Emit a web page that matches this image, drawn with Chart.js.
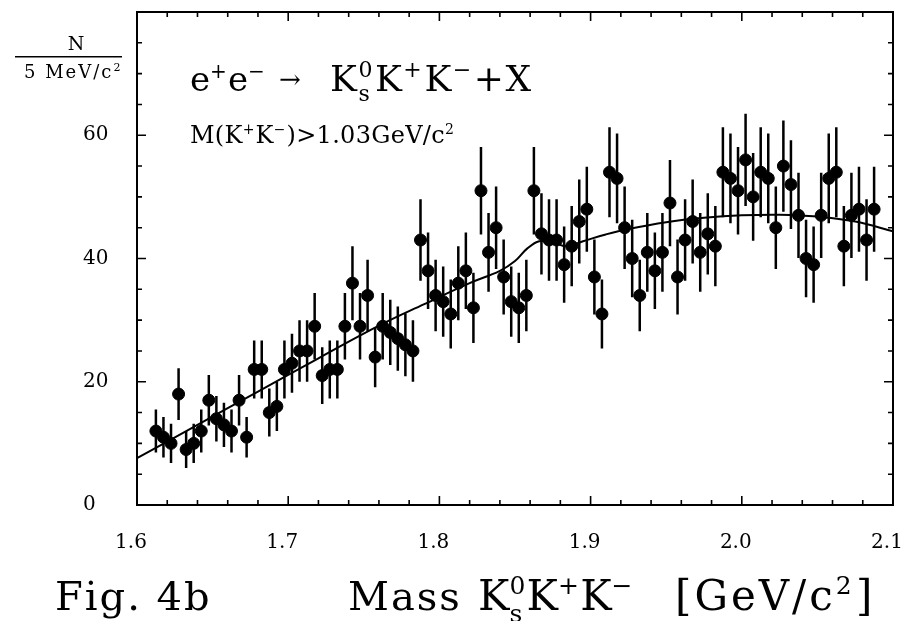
<!DOCTYPE html>
<html>
<head>
<meta charset="utf-8">
<script src="https://cdn.jsdelivr.net/npm/chart.js@4"></script>
<style>
  html, body { margin: 0; padding: 0; background: #fff; }
</style>
</head>
<body>
<canvas id="massChart" width="906" height="621"></canvas>
<script>
// bin centres (GeV/c^2), 5 MeV bins
const binMass = [
  1.6125, 1.6175, 1.6225, 1.6275, 1.6325, 1.6375, 1.6425, 1.6475, 1.6525, 1.6575,
  1.6625, 1.6675, 1.6725, 1.6775, 1.6825, 1.6875, 1.6925, 1.6975, 1.7025, 1.7075,
  1.7125, 1.7175, 1.7225, 1.7275, 1.7325, 1.7375, 1.7425, 1.7475, 1.7525, 1.7575,
  1.7625, 1.7675, 1.7725, 1.7775, 1.7825, 1.7875, 1.7925, 1.7975, 1.8025, 1.8075,
  1.8125, 1.8175, 1.8225, 1.8275, 1.8325, 1.8375, 1.8425, 1.8475, 1.8525, 1.8575,
  1.8625, 1.8675, 1.8725, 1.8775, 1.8825, 1.8875, 1.8925, 1.8975, 1.9025, 1.9075,
  1.9125, 1.9175, 1.9225, 1.9275, 1.9325, 1.9375, 1.9425, 1.9475, 1.9525, 1.9575,
  1.9625, 1.9675, 1.9725, 1.9775, 1.9825, 1.9875, 1.9925, 1.9975, 2.0025, 2.0075,
  2.0125, 2.0175, 2.0225, 2.0275, 2.0325, 2.0375, 2.0425, 2.0475, 2.0525, 2.0575,
  2.0625, 2.0675, 2.0725, 2.0775, 2.0825, 2.0875
];

// entries per bin
const counts = [
  12, 11, 10, 18, 9, 10, 12, 17, 14, 13,
  12, 17, 11, 22, 22, 15, 16, 22, 23, 25,
  25, 29, 21, 22, 22, 29, 36, 29, 34, 24,
  29, 28, 27, 26, 25, 43, 38, 34, 33, 31,
  36, 38, 32, 51, 41, 45, 37, 33, 32, 34,
  51, 44, 43, 43, 39, 42, 46, 48, 37, 31,
  54, 53, 45, 40, 34, 41, 38, 41, 49, 37,
  43, 46, 41, 44, 42, 54, 53, 51, 56, 50,
  54, 53, 45, 55, 52, 47, 40, 39, 47, 53,
  54, 42, 47, 48, 43, 48
];

// half length of each error bar
const errors = [
  3.5, 3.3, 3.2, 4.2, 3.0, 3.2, 3.5, 4.1, 3.7, 3.6,
  3.5, 4.1, 3.3, 4.7, 4.7, 3.9, 4.0, 4.7, 4.8, 5.0,
  5.0, 5.4, 4.6, 4.7, 4.7, 5.4, 6.0, 5.4, 5.8, 4.9,
  5.4, 5.3, 5.2, 5.1, 5.0, 6.6, 6.2, 5.8, 5.7, 5.6,
  6.0, 6.2, 5.7, 7.1, 6.4, 6.7, 6.1, 5.7, 5.7, 5.8,
  7.1, 6.6, 6.6, 6.6, 6.2, 6.5, 6.8, 6.9, 6.1, 5.6,
  7.3, 7.3, 6.7, 6.3, 5.8, 6.4, 6.2, 6.4, 7.0, 6.1,
  6.6, 6.8, 6.4, 6.6, 6.5, 7.3, 7.3, 7.1, 7.5, 7.1,
  7.3, 7.3, 6.7, 7.4, 7.2, 6.9, 6.3, 6.2, 6.9, 7.3,
  7.3, 6.5, 6.9, 6.9, 6.6, 6.9
];

// fitted curve
const fitMass  = [1.600, 1.640, 1.680, 1.720, 1.760, 1.790, 1.820, 1.840, 1.850, 1.858,
                  1.866, 1.875, 1.884, 1.895, 1.910, 1.925, 1.950, 1.975, 2.000, 2.025,
                  2.050, 2.075, 2.100];
const fitValue = [7.6, 13.0, 18.4, 23.8, 29.1, 32.6, 36.0, 38.0, 39.6, 41.6,
                  42.8, 42.6, 42.0, 42.8, 43.9, 44.8, 45.9, 46.6, 47.0, 47.1,
                  46.8, 46.0, 44.4];

const yTickValues = [0, 20, 40, 60];

const SERIF = '"DejaVu Serif", "Liberation Serif", serif';

// text with super/subscripts: strings or {sup, sub}
function richText(ctx, x, y, parts, size, spacing) {
    let cx = x;
    ctx.letterSpacing = (spacing || 0) + 'px';
    for (const p of parts) {
        if (typeof p === 'string') {
            ctx.font = size + 'px ' + SERIF;
            ctx.fillText(p, cx, y);
            cx += ctx.measureText(p).width;
        } else {
            const s = Math.round(size * 0.6);
            ctx.font = s + 'px ' + SERIF;
            let w = 0;
            if (p.sup) {
                ctx.fillText(p.sup, cx, y - size * 0.38);
                w = ctx.measureText(p.sup).width;
            }
            if (p.sub) {
                ctx.fillText(p.sub, cx, y + size * 0.28);
                w = Math.max(w, ctx.measureText(p.sub).width);
            }
            cx += w + size * 0.03;
        }
    }
    ctx.letterSpacing = '0px';
    return cx;
}

const errorBars = {
    id: 'errorBars',
    beforeDatasetsDraw(chart) {
        const { ctx, scales: { x, y } } = chart;
        ctx.save();
        ctx.strokeStyle = '#000';
        ctx.lineWidth = 2.5;
        ctx.beginPath();
        counts.forEach((c, i) => {
            const px = x.getPixelForValue(binMass[i]);
            ctx.moveTo(px, y.getPixelForValue(c - errors[i]));
            ctx.lineTo(px, y.getPixelForValue(c + errors[i]));
        });
        ctx.stroke();
        ctx.restore();
    }
};

const frameTicks = {
    id: 'frameTicks',
    afterDatasetsDraw(chart) {
        const { ctx, chartArea: a, scales: { x, y } } = chart;
        ctx.save();
        ctx.strokeStyle = '#000';
        ctx.lineWidth = 2;
        ctx.strokeRect(a.left, a.top, a.right - a.left, a.bottom - a.top);
        ctx.lineWidth = 1.6;
        ctx.beginPath();
        for (let i = 0; i <= 25; i++) {
            const px = x.getPixelForValue(1.6 + i * 0.02);
            const len = i % 5 === 0 ? 9 : 5;
            ctx.moveTo(px, a.bottom); ctx.lineTo(px, a.bottom - len);
            ctx.moveTo(px, a.top); ctx.lineTo(px, a.top + len);
        }
        for (let v = 0; v <= 80; v += 5) {
            const py = y.getPixelForValue(v);
            const len = v % 20 === 0 ? 9 : 5;
            ctx.moveTo(a.left, py); ctx.lineTo(a.left + len, py);
            ctx.moveTo(a.right, py); ctx.lineTo(a.right - len, py);
        }
        ctx.stroke();
        ctx.restore();
    }
};

const labels = {
    id: 'labels',
    afterDraw(chart) {
        const ctx = chart.ctx;
        ctx.save();
        ctx.fillStyle = '#000';
        ctx.textBaseline = 'alphabetic';

        // y axis unit as a fraction
        ctx.font = '19px ' + SERIF;
        ctx.textAlign = 'center';
        ctx.fillText('N', 76, 50);
        ctx.fillRect(15, 56, 107, 1.5);
        ctx.textAlign = 'left';
        richText(ctx, 24, 78, ['5 MeV/c', { sup: '2' }], 18, 2);

        // reaction and mass cut
        richText(ctx, 190, 91, ['e', { sup: '+' }, 'e', { sup: '\u2212' }], 34);
        richText(ctx, 279, 88, ['\u2192'], 26);
        richText(ctx, 330, 91, ['K', { sup: '0', sub: 's' }, 'K', { sup: '+' }, 'K',
            { sup: '\u2212' }, '+X'], 36, 1.5);
        richText(ctx, 190, 143, ['M(K', { sup: '+' }, 'K', { sup: '\u2212' }, ')>1.03GeV/c',
            { sup: '2' }], 24, 0.3);

        // caption and x axis title
        richText(ctx, 55, 610, ['Fig. 4b'], 40, 2);
        richText(ctx, 348, 610, ['Mass'], 40, 2);
        richText(ctx, 478, 610, ['K', { sup: '0', sub: 's' }, 'K', { sup: '+' }, 'K',
            { sup: '\u2212' }], 42);
        richText(ctx, 675, 610, ['[GeV/c', { sup: '2' }, ']'], 42, 3);
        ctx.restore();
    }
};

new Chart(document.getElementById('massChart'), {
    data: {
        datasets: [{
            type: 'scatter',
            label: 'Data',
            data: counts.map((c, i) => ({ x: binMass[i], y: c })),
            backgroundColor: '#000',
            borderColor: '#000',
            pointRadius: 6,
            pointHoverRadius: 6,
            order: 1
        }, {
            type: 'line',
            label: 'Fit',
            data: fitValue.map((v, i) => ({ x: fitMass[i], y: v })),
            borderColor: '#000',
            borderWidth: 2,
            pointRadius: 0,
            fill: false,
            tension: 0.4,
            order: 2
        }]
    },
    options: {
        responsive: false,
        animation: false,
        layout: { padding: { left: 83, top: 12, right: 13, bottom: 0 } },
        plugins: { legend: { display: false }, tooltip: { enabled: false } },
        scales: {
            x: {
                type: 'linear',
                min: 1.6,
                max: 2.1,
                grid: { display: false },
                border: { display: false },
                afterFit: s => { s.height = 116; s.paddingLeft = 0; s.paddingRight = 0; },
                ticks: {
                    stepSize: 0.1,
                    padding: 18,
                    labelOffset: -6,
                    color: '#000',
                    font: { family: SERIF, size: 20 },
                    callback: v => v.toFixed(1)
                }
            },
            y: {
                min: 0,
                max: 80,
                grid: { display: false },
                border: { display: false },
                afterFit: s => { s.width = 54; s.paddingTop = 0; s.paddingBottom = 0; },
                afterBuildTicks: s => { s.ticks = yTickValues.map(v => ({ value: v })); },
                ticks: {
                    crossAlign: 'far',
                    color: '#000',
                    font: { family: SERIF, size: 20 }
                }
            }
        }
    },
    plugins: [errorBars, frameTicks, labels]
});
</script>
</body>
</html>
